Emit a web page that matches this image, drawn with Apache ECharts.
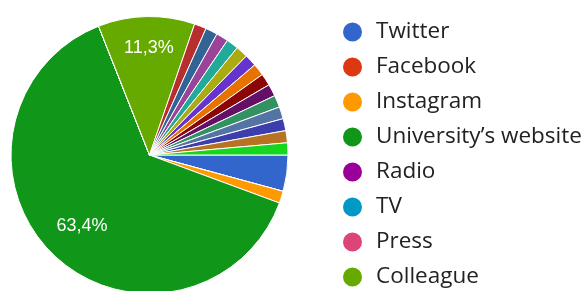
<!DOCTYPE html>
<html><head><meta charset="utf-8">
<script src="https://cdn.jsdelivr.net/npm/echarts@6/dist/echarts.min.js"></script>
<style>html,body{margin:0;padding:0;background:#fff}#c{width:584px;height:291px}</style>
</head><body><div id="c"></div>
<script>
const categories = ['Twitter','Facebook','Instagram',"University’s website",'Radio','TV','Press','Colleague',
  'Other 1','Other 2','Other 3','Other 4','Other 5','Other 6','Other 7','Other 8','Other 9','Other 10','Other 11','Other 12','Other 13','Other 14'];
const values = [3,0,1,45,0,0,0,8,1,1,1,1,1,1,1,1,1,1,1,1,1,1];
const colors = ['#3366cc','#dc3912','#ff9900','#109618','#990099','#0099c6','#dd4477','#66aa00',
  '#b82e2e','#316395','#994499','#22aa99','#aaaa11','#6633cc','#e67300','#8b0707','#651067','#329262','#5574a6','#3b3eac','#b77322','#16d620'];
const legendNames = categories.slice(0, 8);
const labelOffsets = {"University’s website": [-17, 19.4], 'Colleague': [1, -35]};

const total = values.reduce((a,b)=>a+b,0);
const data = categories.map((n,i)=>{
  const item = {name:n, value:values[i], itemStyle:{color:colors[i]}};
  if (values[i]/total > 0.05) {
    item.label = {show:true, offset: labelOffsets[n] || [0,0]};
  }
  return item;
});
const chart = echarts.init(document.getElementById('c'), null, {renderer:'canvas'});
chart.setOption({
  animation:false,
  color: colors,
  legend:{
    orient:'vertical', left:336, top:15.5, height:300, data:legendNames, icon:'circle',
    itemWidth:21, itemHeight:21, itemGap:12,
    textStyle:{fontFamily:'Open Sans', fontSize:22.5, color:'#222', lineHeight:21, height:21, padding:[0,0,0,8]},
    selectedMode:false
  },
  series:[{
    type:'pie', center:[149.5,155], radius:[0,138.5], startAngle:0, clockwise:true,
    avoidLabelOverlap:false, legendHoverLink:false,
    itemStyle:{borderColor:'#fff', borderWidth:1},
    label:{show:false, position:'inside', color:'#fff', fontFamily:'Arial', fontSize:18,
      formatter:p=>p.percent.toFixed(1).replace('.', ',')+'%'},
    labelLine:{show:false},
    emphasis:{disabled:true},
    data:data
  }]
});
</script></body></html>
